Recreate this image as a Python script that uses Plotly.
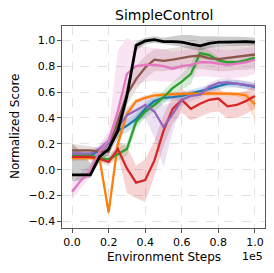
import plotly.graph_objects as go

steps = [0, 5000, 10000, 15000, 20000, 25000, 30000, 35000, 40000, 45000, 50000,
         55000, 60000, 65000, 70000, 75000, 80000, 85000, 90000, 95000, 100000]

x_tick_vals = [0, 20000, 40000, 60000, 80000, 100000]
x_tick_text = ["0.0", "0.2", "0.4", "0.6", "0.8", "1.0"]
y_tick_vals = [-0.4, -0.2, 0.0, 0.2, 0.4, 0.6, 0.8, 1.0]

blue_mean = [0.11, 0.11, 0.11, 0.15, 0.21, 0.30, 0.34, 0.39, 0.47, 0.53, 0.555, 0.56, 0.57, 0.59, 0.605, 0.625, 0.645, 0.665, 0.665, 0.65, 0.64]
blue_lo = [0.09, 0.09, 0.09, 0.12, 0.18, 0.25, 0.29, 0.34, 0.42, 0.49, 0.525, 0.53, 0.54, 0.56, 0.575, 0.595, 0.615, 0.635, 0.635, 0.62, 0.61]
blue_hi = [0.13, 0.13, 0.13, 0.18, 0.24, 0.35, 0.39, 0.44, 0.52, 0.57, 0.585, 0.59, 0.60, 0.62, 0.635, 0.655, 0.675, 0.695, 0.695, 0.68, 0.67]

orange_mean = [0.09, 0.09, 0.09, 0.09, -0.33, 0.20, 0.43, 0.53, 0.555, 0.575, 0.58, 0.58, 0.585, 0.59, 0.585, 0.59, 0.59, 0.59, 0.585, 0.575, 0.505]
orange_lo = [0.07, 0.07, 0.07, 0.07, -0.37, 0.15, 0.39, 0.51, 0.54, 0.56, 0.565, 0.565, 0.57, 0.575, 0.57, 0.575, 0.575, 0.575, 0.565, 0.53, 0.38]
orange_hi = [0.11, 0.11, 0.11, 0.11, -0.29, 0.25, 0.47, 0.55, 0.57, 0.59, 0.595, 0.595, 0.60, 0.605, 0.60, 0.605, 0.605, 0.605, 0.60, 0.60, 0.56]

green_mean = [0.11, 0.11, 0.11, 0.09, 0.08, 0.12, 0.16, 0.37, 0.45, 0.50, 0.56, 0.63, 0.68, 0.74, 0.90, 0.885, 0.845, 0.83, 0.83, 0.845, 0.865]
green_lo = [0.08, 0.08, 0.08, 0.06, 0.05, 0.07, 0.11, 0.32, 0.40, 0.45, 0.51, 0.58, 0.62, 0.66, 0.85, 0.85, 0.82, 0.81, 0.81, 0.825, 0.845]
green_hi = [0.14, 0.14, 0.14, 0.12, 0.11, 0.17, 0.21, 0.42, 0.50, 0.55, 0.61, 0.68, 0.74, 0.82, 0.95, 0.92, 0.87, 0.85, 0.85, 0.865, 0.885]

red_mean = [0.10, 0.10, 0.10, 0.085, 0.06, 0.16, 0.01, -0.10, -0.08, 0.07, 0.30, 0.47, 0.54, 0.47, 0.51, 0.54, 0.55, 0.49, 0.50, 0.53, 0.57]
red_lo = [0.08, 0.08, 0.08, 0.06, 0.03, 0.12, -0.18, -0.22, -0.25, -0.05, 0.18, 0.36, 0.44, 0.38, 0.41, 0.44, 0.45, 0.40, 0.40, 0.43, 0.47]
red_hi = [0.12, 0.12, 0.12, 0.11, 0.09, 0.22, 0.18, 0.03, 0.08, 0.22, 0.42, 0.57, 0.63, 0.56, 0.60, 0.62, 0.63, 0.58, 0.59, 0.61, 0.65]

purple_mean = [0.125, 0.125, 0.125, 0.16, 0.22, 0.33, 0.42, 0.46, 0.50, 0.45, 0.33, 0.43, 0.54, 0.57, 0.58, 0.64, 0.67, 0.675, 0.665, 0.655, 0.645]
purple_lo = [0.10, 0.10, 0.10, 0.13, 0.18, 0.28, 0.36, 0.38, 0.40, 0.25, 0.02, 0.30, 0.49, 0.53, 0.55, 0.61, 0.64, 0.645, 0.635, 0.625, 0.615]
purple_hi = [0.15, 0.15, 0.15, 0.19, 0.26, 0.38, 0.48, 0.53, 0.58, 0.55, 0.50, 0.52, 0.58, 0.61, 0.61, 0.67, 0.70, 0.705, 0.695, 0.685, 0.675]

brown_mean = [0.15, 0.15, 0.15, 0.14, 0.14, 0.38, 0.58, 0.70, 0.79, 0.85, 0.84, 0.85, 0.865, 0.875, 0.88, 0.86, 0.855, 0.865, 0.875, 0.88, 0.89]
brown_lo = [0.10, 0.11, 0.12, 0.11, 0.10, 0.30, 0.50, 0.62, 0.70, 0.76, 0.76, 0.77, 0.78, 0.78, 0.78, 0.77, 0.76, 0.76, 0.77, 0.77, 0.78]
brown_hi = [0.20, 0.19, 0.18, 0.17, 0.18, 0.46, 0.68, 0.80, 0.88, 0.93, 0.93, 0.94, 0.95, 0.96, 0.97, 0.96, 0.95, 0.96, 0.97, 0.97, 0.98]

pink_mean = [-0.17, -0.08, -0.01, 0.14, 0.22, 0.45, 0.74, 0.80, 0.81, 0.81, 0.80, 0.78, 0.80, 0.81, 0.83, 0.83, 0.82, 0.81, 0.82, 0.83, 0.85]
pink_lo = [-0.23, -0.14, -0.06, 0.08, 0.16, 0.36, 0.60, 0.66, 0.68, 0.69, 0.68, 0.68, 0.70, 0.71, 0.72, 0.72, 0.71, 0.70, 0.71, 0.72, 0.74]
pink_hi = [-0.10, -0.02, 0.04, 0.19, 0.30, 0.92, 1.02, 0.98, 0.95, 0.94, 0.93, 0.91, 0.92, 0.93, 0.94, 0.94, 0.93, 0.92, 0.93, 0.94, 0.95]

black_mean = [-0.04, -0.04, -0.04, 0.10, 0.16, 0.30, 0.57, 0.96, 0.995, 1.005, 0.99, 0.99, 0.985, 0.97, 0.957, 0.975, 0.985, 0.985, 0.99, 0.99, 0.985]
black_lo = [-0.09, -0.08, -0.06, 0.06, 0.12, 0.24, 0.50, 0.92, 0.97, 0.98, 0.965, 0.96, 0.95, 0.93, 0.92, 0.94, 0.95, 0.955, 0.96, 0.96, 0.96]
black_hi = [0.20, 0.14, 0.05, 0.14, 0.20, 0.36, 0.64, 0.99, 1.02, 1.03, 1.02, 1.03, 1.04, 1.04, 1.03, 1.03, 1.03, 1.025, 1.025, 1.025, 1.02]

series = [
    ("blue", (31, 119, 180), blue_mean, blue_lo, blue_hi, 2.3),
    ("orange", (255, 127, 14), orange_mean, orange_lo, orange_hi, 2.3),
    ("green", (44, 160, 44), green_mean, green_lo, green_hi, 2.3),
    ("red", (214, 39, 40), red_mean, red_lo, red_hi, 2.3),
    ("purple", (148, 103, 189), purple_mean, purple_lo, purple_hi, 2.3),
    ("brown", (140, 86, 75), brown_mean, brown_lo, brown_hi, 2.3),
    ("pink", (227, 119, 194), pink_mean, pink_lo, pink_hi, 2.3),
    ("black", (0, 0, 0), black_mean, black_lo, black_hi, 2.8),
]

fig = go.Figure()

for name, (r, g, b), mean, lo, hi, lw in series:
    fig.add_trace(go.Scatter(
        x=steps + steps[::-1], y=hi + lo[::-1], fill="toself",
        fillcolor=f"rgba({r},{g},{b},0.2)", line=dict(width=0),
        mode="lines", showlegend=False, hoverinfo="skip"))

for name, (r, g, b), mean, lo, hi, lw in series:
    fig.add_trace(go.Scatter(
        x=steps, y=mean, mode="lines", name=name,
        line=dict(color=f"rgb({r},{g},{b})", width=lw),
        showlegend=False))

font_family = "DejaVu Sans"
axis_common = dict(
    showline=True, mirror=True, linecolor="#555555", linewidth=1.3,
    ticks="outside", ticklen=3.5, tickwidth=1, tickcolor="#555555",
    showgrid=True, gridcolor="#e2e2e2", griddash="dash", gridwidth=0.8,
    zeroline=False, tickfont=dict(family=font_family, size=11, color="#000000"),
)

fig.update_layout(
    width=274, height=273,
    margin=dict(l=62, r=9, t=26, b=45),
    paper_bgcolor="white", plot_bgcolor="white",
    xaxis=dict(range=[-5500, 105500], tickvals=x_tick_vals, ticktext=x_tick_text, **axis_common),
    yaxis=dict(range=[-0.45, 1.11], tickvals=y_tick_vals, tickformat=".1f", **axis_common),
    annotations=[
        dict(text="SimpleControl", x=0.5, y=1.054, xref="paper", yref="paper",
             xanchor="center", yanchor="middle", showarrow=False,
             font=dict(family=font_family, size=14, color="#000000")),
        dict(text="Environment Steps", x=0.5, y=-0.143, xref="paper", yref="paper",
             xanchor="center", yanchor="middle", showarrow=False,
             font=dict(family=font_family, size=12, color="#000000")),
        dict(text="1e5", x=1.0, y=-0.14, xref="paper", yref="paper",
             xanchor="right", yanchor="middle", showarrow=False,
             font=dict(family=font_family, size=11, color="#000000")),
        dict(text="Normalized Score", x=-0.2315, y=0.5, xref="paper", yref="paper",
             xanchor="center", yanchor="middle", textangle=-90, showarrow=False,
             font=dict(family=font_family, size=12, color="#000000")),
    ],
)

fig.write_html("out.html", config={"displayModeBar": False},
               post_script="document.body.style.margin='0px';")
